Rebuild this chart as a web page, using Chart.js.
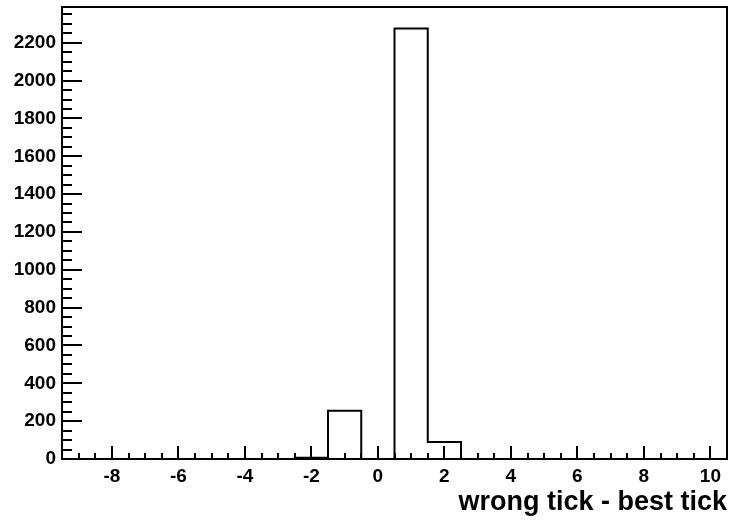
<!DOCTYPE html>
<html>
<head>
<meta charset="utf-8">
<script src="https://cdn.jsdelivr.net/npm/chart.js@4/dist/chart.umd.min.js"></script>
<style>
  body { margin: 0; background: #fff; }
  #wrap { width: 731px; height: 520px; }
</style>
</head>
<body>
<div id="wrap"><canvas id="myChart" width="731" height="520"></canvas></div>
<script>
'use strict';
// bin centres (width 1) and entries
const binCenters = [-9, -8, -7, -6, -5, -4, -3, -2, -1, 0, 1, 2, 3, 4, 5, 6, 7, 8, 9, 10];
const counts = [0, 0, 0, 0, 0, 0, 0, 7, 255, 0, 2275, 90, 0, 0, 0, 0, 0, 0, 0, 0];
const xTicks = [-8, -6, -4, -2, 0, 2, 4, 6, 8, 10];
const yTicks = [0, 200, 400, 600, 800, 1000, 1200, 1400, 1600, 1800, 2000, 2200];
const xTitle = 'wrong tick - best tick';

const xMin = -9.5;
const xMax = 10.5;
const yMax = 2389;

// outline points at the bin edges
let points = [];
for (let i = 0; i < binCenters.length; i++) {
  points.push({ x: binCenters[i] - 0.5, y: counts[i] });
}
points.push({ x: binCenters[binCenters.length - 1] + 0.5, y: counts[counts.length - 1] });

const font = { family: 'Liberation Sans, Arial, sans-serif', weight: 'bold', size: 19 };

// frame + ROOT style inward ticks
const frameTicks = {
  id: 'frameTicks',
  afterDraw(chart) {
    const ctx = chart.ctx;
    const a = chart.chartArea;
    const xs = chart.scales.x;
    const ys = chart.scales.y;
    ctx.save();
    ctx.strokeStyle = '#000';
    ctx.lineWidth = 2;
    ctx.beginPath();
    for (let v = -9; v <= 10.001; v += 0.5) {
      const px = Math.round(xs.getPixelForValue(v));
      const len = xTicks.includes(v) ? 13 : 6;
      ctx.moveTo(px, a.bottom);
      ctx.lineTo(px, a.bottom - len);
    }
    for (let v = 0; v <= yMax; v += 50) {
      const py = Math.round(ys.getPixelForValue(v));
      const len = yTicks.includes(v) ? 20 : 10;
      ctx.moveTo(a.left, py);
      ctx.lineTo(a.left + len, py);
    }
    ctx.stroke();
    ctx.strokeRect(a.left, a.top, a.right - a.left, a.bottom - a.top);
    ctx.restore();
  }
};

let ctx = document.getElementById('myChart').getContext('2d');
let chart = new Chart(ctx, {
  type: 'line',
  data: {
    datasets: [{
      data: points,
      stepped: true,
      borderColor: '#000',
      borderWidth: 2,
      pointRadius: 0,
      fill: false
    }]
  },
  options: {
    responsive: false,
    animation: false,
    layout: { padding: { left: 0, top: 7, right: 4, bottom: 0 } },
    plugins: { legend: { display: false }, tooltip: { enabled: false } },
    scales: {
      x: {
        type: 'linear',
        min: xMin,
        max: xMax,
        grid: { display: false, drawTicks: false },
        border: { display: false },
        afterBuildTicks: s => { s.ticks = xTicks.map(v => ({ value: v })); },
        afterFit: s => { s.height = 61; s.paddingLeft = 0; s.paddingRight = 0; },
        ticks: { color: '#000', font: font, padding: 6, maxRotation: 0, autoSkip: false, callback: v => String(v) },
        title: {
          display: true,
          text: xTitle,
          align: 'end',
          color: '#000',
          font: { family: 'Liberation Sans, Arial, sans-serif', weight: 'bold', size: 27 },
          padding: { top: 0, bottom: 1 }
        }
      },
      y: {
        min: 0,
        max: yMax,
        grid: { display: false, drawTicks: false },
        border: { display: false },
        afterBuildTicks: s => { s.ticks = yTicks.map(v => ({ value: v })); },
        afterFit: s => { s.width = 62; s.paddingTop = 0; s.paddingBottom = 0; },
        ticks: { color: '#000', font: font, padding: 6, autoSkip: false, callback: v => String(v) }
      }
    }
  },
  plugins: [frameTicks]
});
</script>
</body>
</html>
